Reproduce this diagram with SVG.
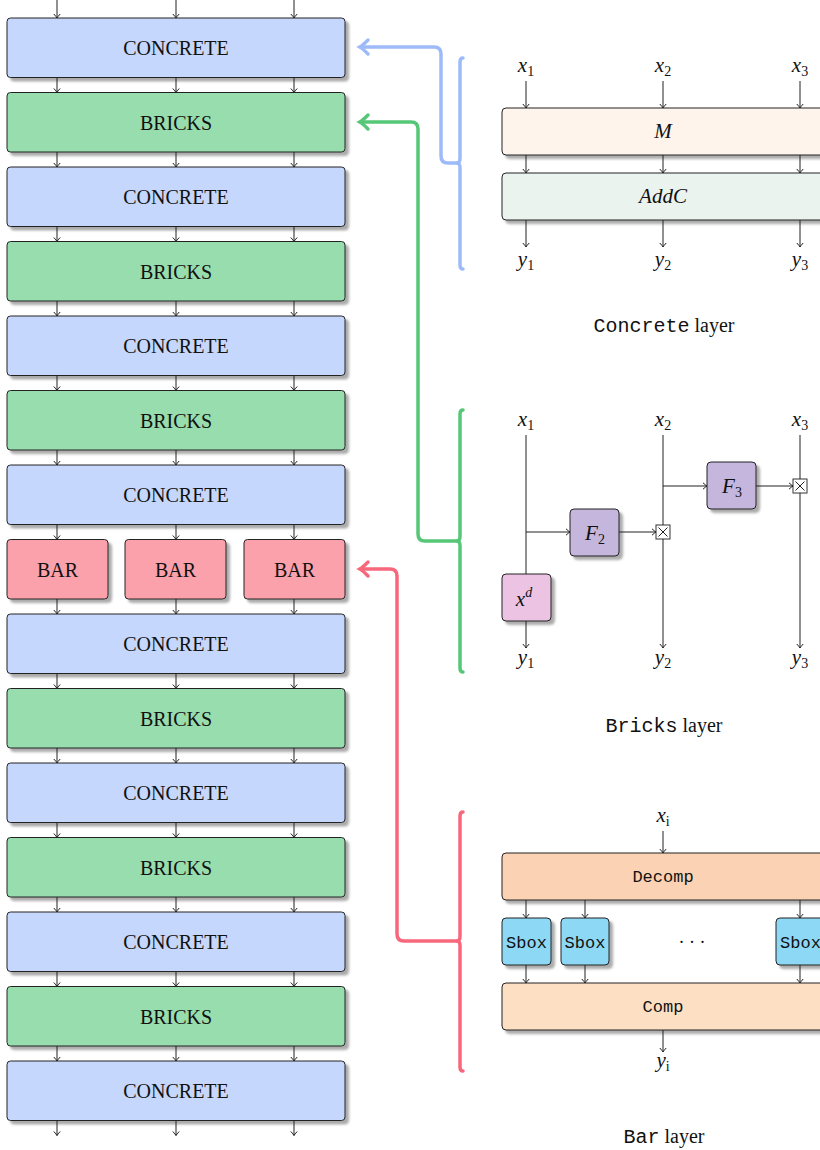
<svg xmlns="http://www.w3.org/2000/svg" width="820" height="1150" viewBox="0 0 820 1150">
<style>
.box{stroke:#222;stroke-width:1;filter:url(#sh)}
.conc{fill:#C6D7FD}
.brk{fill:#98DDAE}
.bar{fill:#FBA1AC}
.t{font-family:"Liberation Serif",serif;font-size:20px;fill:#111;text-anchor:middle}
.m{font-family:"Liberation Serif",serif;font-style:italic;font-size:21px;fill:#111;text-anchor:middle}
.sub{font-style:normal;font-size:14px}
.mono{font-family:"Liberation Mono",monospace;font-size:17px;fill:#111;text-anchor:middle}
.cap{font-family:"Liberation Serif",serif;font-size:20px;fill:#111;text-anchor:middle}
.capm{font-family:"Liberation Mono",monospace;font-size:20px}
.ln{stroke:#222;stroke-width:1;fill:none}
.ar{stroke:#222;stroke-width:1;fill:none;marker-end:url(#a)}
.thick{fill:none;stroke-width:3.5;stroke-linecap:round;stroke-linejoin:round}
</style>
<defs>
<filter id="sh" x="-10%" y="-15%" width="130%" height="150%">
<feDropShadow dx="3.5" dy="3.5" stdDeviation="1" flood-color="#000" flood-opacity="0.33"/>
</filter>
<marker id="a" markerUnits="userSpaceOnUse" markerWidth="10" markerHeight="10" viewBox="-5 -5 10 10" refX="0" refY="0" orient="auto">
<path d="M-4,-3.2 Q-1.2,-0.6 0,0 Q-1.2,0.6 -4,3.2" fill="none" stroke="#222" stroke-width="1"/>
</marker>
<marker id="ab" markerUnits="userSpaceOnUse" markerWidth="16" markerHeight="22" viewBox="-12 -11 16 22" refX="0" refY="0" orient="auto">
<path d="M-8,-7 Q-2,-1 0,0 Q-2,1 -8,7" fill="none" stroke="#9EBBF9" stroke-width="3.5" stroke-linecap="round"/>
</marker>
<marker id="ag" markerUnits="userSpaceOnUse" markerWidth="16" markerHeight="22" viewBox="-12 -11 16 22" refX="0" refY="0" orient="auto">
<path d="M-8,-7 Q-2,-1 0,0 Q-2,1 -8,7" fill="none" stroke="#56C777" stroke-width="3.5" stroke-linecap="round"/>
</marker>
<marker id="ar" markerUnits="userSpaceOnUse" markerWidth="16" markerHeight="22" viewBox="-12 -11 16 22" refX="0" refY="0" orient="auto">
<path d="M-8,-7 Q-2,-1 0,0 Q-2,1 -8,7" fill="none" stroke="#F7687C" stroke-width="3.5" stroke-linecap="round"/>
</marker>
<g id="arr3">
<path class="ar" d="M57,0 V15"/>
<path class="ar" d="M176,0 V15"/>
<path class="ar" d="M294,0 V15"/>
</g>
</defs>
<rect width="820" height="1150" fill="#fff"/>

<!-- left column -->
<g id="row0"><rect class="box conc" x="7" y="18" width="338" height="59.5" rx="3.5"/><text class="t" x="176" y="55">CONCRETE</text></g>
<g id="row1"><rect class="box brk" x="7" y="92.5" width="338" height="59.5" rx="3.5"/><text class="t" x="176" y="129.5">BRICKS</text></g>
<g id="row2"><rect class="box conc" x="7" y="167" width="338" height="59.5" rx="3.5"/><text class="t" x="176" y="204">CONCRETE</text></g>
<g id="row3"><rect class="box brk" x="7" y="241.5" width="338" height="59.5" rx="3.5"/><text class="t" x="176" y="278.5">BRICKS</text></g>
<g id="row4"><rect class="box conc" x="7" y="316" width="338" height="59.5" rx="3.5"/><text class="t" x="176" y="353">CONCRETE</text></g>
<g id="row5"><rect class="box brk" x="7" y="390.5" width="338" height="59.5" rx="3.5"/><text class="t" x="176" y="427.5">BRICKS</text></g>
<g id="row6"><rect class="box conc" x="7" y="465" width="338" height="59.5" rx="3.5"/><text class="t" x="176" y="502">CONCRETE</text></g>
<g id="bar1"><rect class="box bar" x="7" y="539.5" width="101" height="59.5" rx="3.5"/><text class="t" x="57.5" y="576.5">BAR</text></g>
<g id="bar2"><rect class="box bar" x="125" y="539.5" width="101" height="59.5" rx="3.5"/><text class="t" x="175.5" y="576.5">BAR</text></g>
<g id="bar3"><rect class="box bar" x="244" y="539.5" width="101" height="59.5" rx="3.5"/><text class="t" x="294.5" y="576.5">BAR</text></g>
<g id="row8"><rect class="box conc" x="7" y="614" width="338" height="59.5" rx="3.5"/><text class="t" x="176" y="651">CONCRETE</text></g>
<g id="row9"><rect class="box brk" x="7" y="688.5" width="338" height="59.5" rx="3.5"/><text class="t" x="176" y="725.5">BRICKS</text></g>
<g id="row10"><rect class="box conc" x="7" y="763" width="338" height="59.5" rx="3.5"/><text class="t" x="176" y="800">CONCRETE</text></g>
<g id="row11"><rect class="box brk" x="7" y="837.5" width="338" height="59.5" rx="3.5"/><text class="t" x="176" y="874.5">BRICKS</text></g>
<g id="row12"><rect class="box conc" x="7" y="912" width="338" height="59.5" rx="3.5"/><text class="t" x="176" y="949">CONCRETE</text></g>
<g id="row13"><rect class="box brk" x="7" y="986.5" width="338" height="59.5" rx="3.5"/><text class="t" x="176" y="1023.5">BRICKS</text></g>
<g id="row14"><rect class="box conc" x="7" y="1061" width="338" height="59.5" rx="3.5"/><text class="t" x="176" y="1098">CONCRETE</text></g>

<!-- concrete layer -->
<g id="concreteLayer">
<text class="m" x="526" y="72">x<tspan class="sub" dy="4">1</tspan></text>
<text class="m" x="663" y="72">x<tspan class="sub" dy="4">2</tspan></text>
<text class="m" x="800" y="72">x<tspan class="sub" dy="4">3</tspan></text>
<g id="M"><rect class="box" fill="#FEF4EC" x="502" y="108" width="322" height="47" rx="4"/><text class="m" x="663" y="138">M</text></g>
<g id="AddC"><rect class="box" fill="#EAF3EE" x="502" y="173" width="322" height="47" rx="4"/><text class="m" x="663" y="203">AddC</text></g>
<text class="m" x="526" y="266">y<tspan class="sub" dy="4">1</tspan></text>
<text class="m" x="663" y="266">y<tspan class="sub" dy="4">2</tspan></text>
<text class="m" x="800" y="266">y<tspan class="sub" dy="4">3</tspan></text>
<text class="cap" x="664" y="332"><tspan class="capm">Concrete</tspan> layer</text>
</g>

<!-- bricks layer -->
<g id="bricksLayer">
<text class="m" x="526" y="426">x<tspan class="sub" dy="4">1</tspan></text>
<text class="m" x="663" y="426">x<tspan class="sub" dy="4">2</tspan></text>
<text class="m" x="800" y="426">x<tspan class="sub" dy="4">3</tspan></text>
<g id="xd"><rect class="box" fill="#ECC3E2" x="502" y="574" width="49" height="47" rx="4"/><text class="m" x="524" y="606">x<tspan font-size="14" dy="-9">d</tspan></text></g>
<g id="F2"><rect class="box" fill="#C4B6DC" x="570" y="509" width="49" height="47" rx="4"/><text class="m" x="595" y="540">F<tspan class="sub" dy="4">2</tspan></text></g>
<g id="F3"><rect class="box" fill="#C4B6DC" x="707" y="462" width="49" height="47" rx="4"/><text class="m" x="732" y="493">F<tspan class="sub" dy="4">3</tspan></text></g>
<g id="xor1"><rect x="656" y="525" width="14" height="14" fill="#fff" stroke="#333" stroke-width="1"/><path class="ln" d="M658.5,527.5 L667.5,536.5 M667.5,527.5 L658.5,536.5"/></g>
<g id="xor2"><rect x="793" y="479" width="14" height="14" fill="#fff" stroke="#333" stroke-width="1"/><path class="ln" d="M795.5,481.5 L804.5,490.5 M804.5,481.5 L795.5,490.5"/></g>
<text class="m" x="526" y="664">y<tspan class="sub" dy="4">1</tspan></text>
<text class="m" x="663" y="664">y<tspan class="sub" dy="4">2</tspan></text>
<text class="m" x="800" y="664">y<tspan class="sub" dy="4">3</tspan></text>
<text class="cap" x="664" y="732"><tspan class="capm">Bricks</tspan> layer</text>
</g>

<!-- bar layer -->
<g id="barLayer">
<text class="m" x="663" y="822">x<tspan class="sub" font-style="italic" dy="4">i</tspan></text>
<g id="Decomp"><rect class="box" fill="#FBD2B3" x="502" y="853" width="322" height="47" rx="4"/><text class="mono" x="663" y="882">Decomp</text></g>
<g id="sbox1"><rect class="box" fill="#8DD8F5" x="502" y="918" width="49" height="47" rx="4"/><text class="mono" x="526.5" y="948">Sbox</text></g>
<g id="sbox2"><rect class="box" fill="#8DD8F5" x="561" y="918" width="48" height="47" rx="4"/><text class="mono" x="585" y="948">Sbox</text></g>
<g id="sbox3"><rect class="box" fill="#8DD8F5" x="776" y="918" width="49" height="47" rx="4"/><text class="mono" x="800.5" y="948">Sbox</text></g>
<text x="692" y="948" font-family="Liberation Serif,serif" font-size="18" fill="#111" text-anchor="middle">· · ·</text>
<g id="Comp"><rect class="box" fill="#FDDFC4" x="502" y="983" width="322" height="47" rx="4"/><text class="mono" x="663" y="1012">Comp</text></g>
<text class="m" x="663" y="1067">y<tspan class="sub" font-style="italic" dy="4">i</tspan></text>
<text class="cap" x="664" y="1143"><tspan class="capm">Bar</tspan> layer</text>
</g>

<g id="connectors">
<!-- left column arrows -->
<path class="ar" d="M57,0 V18"/><path class="ar" d="M176,0 V18"/><path class="ar" d="M294,0 V18"/>
<use href="#arr3" y="77.5"/>
<use href="#arr3" y="152"/>
<use href="#arr3" y="226.5"/>
<use href="#arr3" y="301"/>
<use href="#arr3" y="375.5"/>
<use href="#arr3" y="450"/>
<use href="#arr3" y="524.5"/>
<use href="#arr3" y="599"/>
<use href="#arr3" y="673.5"/>
<use href="#arr3" y="748"/>
<use href="#arr3" y="822.5"/>
<use href="#arr3" y="897"/>
<use href="#arr3" y="971.5"/>
<use href="#arr3" y="1046"/>
<use href="#arr3" y="1120.5"/>
<!-- concrete layer arrows -->
<path class="ar" d="M526,81 V108"/><path class="ar" d="M663,81 V108"/><path class="ar" d="M800,81 V108"/>
<path class="ar" d="M526,155 V173"/><path class="ar" d="M663,155 V173"/><path class="ar" d="M800,155 V173"/>
<path class="ar" d="M526,220 V247"/><path class="ar" d="M663,220 V247"/><path class="ar" d="M800,220 V247"/>
<!-- bricks layer -->
<path class="ln" d="M526,435 V574"/>
<path class="ar" d="M526,621 V648"/>
<path class="ar" d="M526,532 H570"/>
<path class="ar" d="M619,532 H656"/>
<path class="ln" d="M663,435 V525"/>
<path class="ar" d="M663,539 V648"/>
<path class="ar" d="M663,486 H707"/>
<path class="ar" d="M756,486 H793"/>
<path class="ln" d="M800,435 V479"/>
<path class="ar" d="M800,493 V648"/>
<!-- bar layer -->
<path class="ar" d="M663,831 V853"/>
<path class="ar" d="M526,900 V918"/><path class="ar" d="M585,900 V918"/><path class="ar" d="M800,900 V918"/>
<path class="ar" d="M526,965 V983"/><path class="ar" d="M585,965 V983"/><path class="ar" d="M800,965 V983"/>
<path class="ar" d="M663,1030 V1052"/>
<!-- braces -->
<path class="thick" stroke="#9EBBF9" d="M463,58 Q460,58 460,62 L460,158 Q460,163 457,163 Q460,163 460,168 L460,265 Q460,269 463,269"/>
<path class="thick" stroke="#56C777" d="M463,410 Q460,410 460,414 L460,536 Q460,541 457,541 Q460,541 460,546 L460,668 Q460,672 463,672"/>
<path class="thick" stroke="#F7687C" d="M463,812 Q460,812 460,816 L460,936 Q460,941 457,941 Q460,941 460,946 L460,1067 Q460,1071 463,1071"/>
<!-- thick connectors -->
<path class="thick" stroke="#9EBBF9" marker-end="url(#ab)" d="M458,163 L448,163 Q441,163 441,156 L441,54 Q441,47 434,47 L360,47"/>
<path class="thick" stroke="#56C777" marker-end="url(#ag)" d="M458,541 L425,541 Q418,541 418,534 L418,129 Q418,122 411,122 L360,122"/>
<path class="thick" stroke="#F7687C" marker-end="url(#ar)" d="M458,941 L404,941 Q397,941 397,934 L397,576 Q397,569 390,569 L360,569"/>
</g>
</svg>
